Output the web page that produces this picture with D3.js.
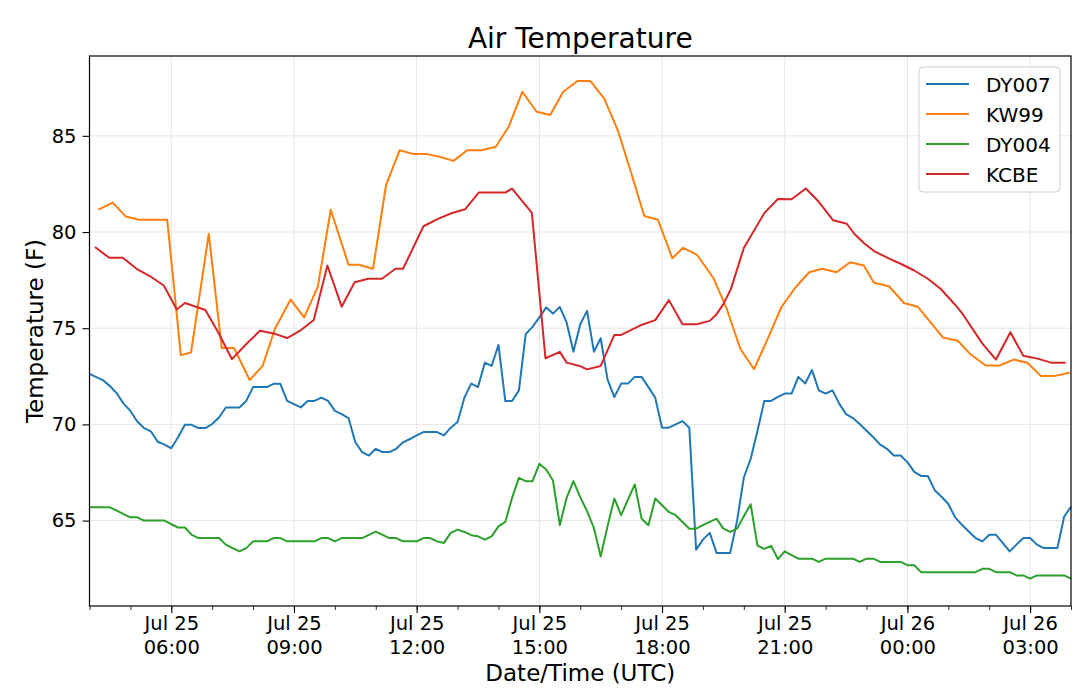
<!DOCTYPE html>
<html>
<head>
<meta charset="utf-8">
<script src="https://cdn.jsdelivr.net/npm/d3@7"></script>
<style>
  body { margin: 0; background: #fff; }
  text { font-family: "DejaVu Sans", sans-serif; fill: #000; }
</style>
</head>
<body>
<svg id="fig" width="1080" height="700"></svg>
<script>
// --- data ---
var seriesNames = ["DY007", "KW99", "DY004", "KCBE"];
var seriesColors = ["#1f77b4", "#ff7f0e", "#2ca02c", "#d62728"];

// DY007 and DY004 report every 10 minutes from Jul 25 04:00 UTC
var dyStart = "07-25 04:00";
var dyStepMinutes = 10;

var dy007 = [72.63, 72.46, 72.29, 71.99, 71.62, 71.08, 70.7, 70.15, 69.81, 69.64, 69.1, 68.95,
  68.76, 69.33, 69.98, 69.98, 69.81, 69.81, 70.02, 70.36, 70.88, 70.88, 70.88, 71.22,
  71.94, 71.94, 71.94, 72.11, 72.11, 71.22, 71.05, 70.88, 71.22, 71.22, 71.39, 71.22,
  70.7, 70.53, 70.33, 69.07, 68.56, 68.38, 68.73, 68.56, 68.56, 68.73, 69.07, 69.24,
  69.43, 69.6, 69.6, 69.6, 69.43, 69.83, 70.12, 71.39, 72.12, 71.94, 73.21, 73.04,
  74.13, 71.22, 71.22, 71.77, 74.69, 75.07, 75.56, 76.08, 75.76, 76.11, 75.3, 73.78,
  75.21, 75.9, 73.78, 74.48, 72.34, 71.42, 72.12, 72.12, 72.47, 72.47, 71.94, 71.39,
  69.83, 69.83, 70.0, 70.17, 69.83, 63.49, 64.01, 64.36, 63.32, 63.32, 63.32, 64.97,
  67.24, 68.2, 69.66, 71.22, 71.22, 71.43, 71.6, 71.6, 72.47, 72.13, 72.82, 71.77,
  71.6, 71.77, 71.08, 70.53, 70.33, 70.02, 69.67, 69.33, 68.95, 68.73, 68.38, 68.38,
  68.04, 67.53, 67.32, 67.32, 66.58, 66.24, 65.86, 65.17, 64.78, 64.43, 64.09, 63.92,
  64.26, 64.26, 63.83, 63.4, 63.75, 64.09, 64.09, 63.75, 63.57, 63.57, 63.57, 65.21,
  65.72];

var dy004 = [65.69, 65.69, 65.69, 65.69, 65.52, 65.34, 65.17, 65.17, 65.0, 65.0, 65.0, 65.0,
  64.81, 64.64, 64.64, 64.26, 64.09, 64.09, 64.09, 64.09, 63.75, 63.57, 63.4, 63.57,
  63.92, 63.92, 63.92, 64.09, 64.09, 63.92, 63.92, 63.92, 63.92, 63.92, 64.09, 64.09,
  63.92, 64.09, 64.09, 64.09, 64.09, 64.26, 64.43, 64.26, 64.09, 64.09, 63.92, 63.92,
  63.92, 64.09, 64.09, 63.92, 63.84, 64.36, 64.53, 64.41, 64.24, 64.18, 64.01, 64.18,
  64.7, 64.93, 66.18, 67.22, 67.05, 67.05, 67.95, 67.66, 67.08, 64.76, 66.18, 67.05,
  66.22, 65.49, 64.62, 63.13, 64.7, 66.15, 65.28, 66.09, 66.88, 65.1, 64.76, 66.15,
  65.8, 65.45, 65.28, 64.93, 64.58, 64.58, 64.76, 64.93, 65.1, 64.58, 64.41, 64.58,
  65.22, 65.85, 63.7, 63.53, 63.69, 63.0, 63.4, 63.2, 63.02, 63.02, 63.02, 62.85,
  63.02, 63.02, 63.02, 63.02, 63.02, 62.85, 63.02, 63.02, 62.85, 62.85, 62.85, 62.85,
  62.68, 62.68, 62.32, 62.32, 62.32, 62.32, 62.32, 62.32, 62.32, 62.32, 62.32, 62.49,
  62.49, 62.32, 62.32, 62.32, 62.15, 62.15, 61.98, 62.15, 62.15, 62.15, 62.15, 62.15,
  61.98];

var kw99Times = ["07-25 04:13", "07-25 04:34", "07-25 04:53", "07-25 05:13", "07-25 05:33", "07-25 05:54",
  "07-25 06:14", "07-25 06:29", "07-25 06:55", "07-25 07:14", "07-25 07:32", "07-25 07:55",
  "07-25 08:14", "07-25 08:32", "07-25 08:55", "07-25 09:15", "07-25 09:35", "07-25 09:54",
  "07-25 10:20", "07-25 10:35", "07-25 10:56", "07-25 11:15", "07-25 11:35", "07-25 11:56",
  "07-25 12:15", "07-25 12:35", "07-25 12:54", "07-25 13:14", "07-25 13:35", "07-25 13:56",
  "07-25 14:15", "07-25 14:35", "07-25 14:56", "07-25 15:16", "07-25 15:35", "07-25 15:56",
  "07-25 16:15", "07-25 16:35", "07-25 16:55", "07-25 17:15", "07-25 17:34", "07-25 17:54",
  "07-25 18:15", "07-25 18:31", "07-25 18:51", "07-25 19:16", "07-25 19:35", "07-25 19:55",
  "07-25 20:15", "07-25 20:35", "07-25 20:55", "07-25 21:16", "07-25 21:36", "07-25 21:55",
  "07-25 22:16", "07-25 22:36", "07-25 22:56", "07-25 23:11", "07-25 23:33", "07-25 23:55",
  "07-26 00:15", "07-26 00:34", "07-26 00:52", "07-26 01:14", "07-26 01:33", "07-26 01:55",
  "07-26 02:15", "07-26 02:36", "07-26 02:56", "07-26 03:16", "07-26 03:35", "07-26 03:58"];
var kw99 = [81.16, 81.53, 80.81, 80.64, 80.64, 80.64,
  73.6, 73.74, 79.91, 73.97, 73.97, 72.31,
  73.04, 74.96, 76.49, 75.56, 77.16, 81.16,
  78.3, 78.3, 78.09, 82.43, 84.25, 84.05,
  84.05, 83.9, 83.7, 84.25, 84.25, 84.43,
  85.47, 87.29, 86.25, 86.08, 87.29, 87.85,
  87.85, 86.95, 85.3, 83.04, 80.83, 80.64,
  78.64, 79.18, 78.83, 77.57, 76.0, 73.92,
  72.87, 74.45, 76.09, 77.13, 77.91, 78.09,
  77.91, 78.43, 78.26, 77.36, 77.18, 76.31,
  76.12, 75.3, 74.52, 74.35, 73.63, 73.06,
  73.06, 73.37, 73.2, 72.51, 72.51, 72.68];

var kcbeTimes = ["07-25 04:08", "07-25 04:29", "07-25 04:49", "07-25 05:09", "07-25 05:29", "07-25 05:49",
  "07-25 06:08", "07-25 06:20", "07-25 06:50", "07-25 07:09", "07-25 07:29", "07-25 07:49",
  "07-25 08:10", "07-25 08:30", "07-25 08:50", "07-25 09:09", "07-25 09:29", "07-25 09:49",
  "07-25 10:10", "07-25 10:29", "07-25 10:49", "07-25 11:09", "07-25 11:29", "07-25 11:40",
  "07-25 12:10", "07-25 12:32", "07-25 12:52", "07-25 13:11", "07-25 13:31", "07-25 13:51",
  "07-25 14:10", "07-25 14:20", "07-25 14:49", "07-25 15:09", "07-25 15:30", "07-25 15:40",
  "07-25 15:59", "07-25 16:10", "07-25 16:30", "07-25 16:50", "07-25 17:00", "07-25 17:30",
  "07-25 17:50", "07-25 18:10", "07-25 18:30", "07-25 18:51", "07-25 19:10", "07-25 19:20",
  "07-25 19:30", "07-25 19:41", "07-25 20:00", "07-25 20:30", "07-25 20:50", "07-25 21:10",
  "07-25 21:31", "07-25 21:50", "07-25 22:11", "07-25 22:31", "07-25 22:42", "07-25 22:56",
  "07-25 23:11", "07-25 23:31", "07-25 23:50", "07-26 00:10", "07-26 00:30", "07-26 00:49",
  "07-26 01:09", "07-26 01:21", "07-26 01:50", "07-26 02:10", "07-26 02:31", "07-26 02:50",
  "07-26 03:11", "07-26 03:32", "07-26 03:52"];
var kcbe = [79.22, 78.66, 78.66, 78.09, 77.7, 77.22,
  75.97, 76.31, 75.95, 74.78, 73.39, 74.14,
  74.87, 74.73, 74.49, 74.87, 75.43, 78.26,
  76.12, 77.39, 77.57, 77.57, 78.09, 78.09,
  80.3, 80.7, 80.99, 81.18, 82.05, 82.05,
  82.05, 82.26, 80.99, 73.44, 73.77, 73.21,
  73.04, 72.86, 73.04, 74.65, 74.65, 75.17,
  75.42, 76.46, 75.21, 75.21, 75.38, 75.73,
  76.25, 77.03, 79.17, 80.98, 81.72, 81.7,
  82.26, 81.57, 80.61, 80.43, 79.91, 79.43,
  79.01, 78.66, 78.35, 78.0, 77.57, 77.04,
  76.26, 75.74, 74.2, 73.37, 74.79, 73.57,
  73.42, 73.2, 73.2];

var xRange = ["07-25 04:00", "07-26 04:00"];
var yRange = [60.56, 89.15];
var yTicks = [65, 70, 75, 80, 85];

function makeSVG() {
    var width = 1080, height = 700;
    var margin = {left: 89.5, right: 9, top: 56, bottom: 94};
    var parse = d3.utcParse("%m-%d %H:%M");

    var t0 = parse(dyStart);
    var regular = function(vals) {
        return vals.map((v, i) => [d3.utcMinute.offset(t0, i * dyStepMinutes), v]);
    };
    var paired = function(times, vals) {
        return times.map((t, i) => [parse(t), vals[i]]);
    };
    var series = [regular(dy007), paired(kw99Times, kw99), regular(dy004), paired(kcbeTimes, kcbe)];

    var sx = d3.scaleUtc().domain(xRange.map(parse))
                          .range([margin.left, width - margin.right]);
    var sy = d3.scaleLinear().domain(yRange)
                             .range([height - margin.bottom, margin.top]);

    var svg = d3.select("#fig");

    // grid
    var grid = svg.append("g").attr("stroke", "#e6e6e6").attr("stroke-width", 1);
    grid.selectAll("line.gx").data(sx.ticks(d3.utcHour.every(3)))
        .enter().append("line")
        .attr("x1", d => sx(d)).attr("x2", d => sx(d))
        .attr("y1", margin.top).attr("y2", height - margin.bottom);
    grid.selectAll("line.gy").data(yTicks)
        .enter().append("line")
        .attr("x1", margin.left).attr("x2", width - margin.right)
        .attr("y1", d => sy(d)).attr("y2", d => sy(d));

    // lines
    var line = d3.line().x(d => sx(d[0])).y(d => sy(d[1]));
    svg.append("g").selectAll("path").data(series)
       .enter().append("path")
       .attr("d", line)
       .attr("fill", "none")
       .attr("stroke", (d, i) => seriesColors[i])
       .attr("stroke-width", 2)
       .attr("stroke-linejoin", "round");

    // frame
    svg.append("rect")
       .attr("x", margin.left).attr("y", margin.top)
       .attr("width", width - margin.left - margin.right)
       .attr("height", height - margin.top - margin.bottom)
       .attr("fill", "none").attr("stroke", "#000").attr("stroke-width", 1.2);

    // x axis
    var fmtDay = d3.utcFormat("%b %d");
    var fmtHour = d3.utcFormat("%H:%M");
    var xAxis = svg.append("g")
        .attr("transform", "translate(0," + (height - margin.bottom) + ")")
        .call(d3.axisBottom(sx).ticks(d3.utcHour.every(3)).tickSize(7).tickFormat(""));
    xAxis.select(".domain").remove();
    xAxis.selectAll(".tick line").attr("stroke", "#000").attr("stroke-width", 1.1);
    xAxis.selectAll(".tick text").remove();
    xAxis.selectAll(".tick").append("text")
        .attr("text-anchor", "middle")
        .attr("font-size", 19.5)
        .each(function(d) {
            var t = d3.select(this);
            t.append("tspan").attr("x", 0).attr("y", 23.5).text(fmtDay(d));
            t.append("tspan").attr("x", 0).attr("y", 47.5).text(fmtHour(d));
        });

    var xMinor = svg.append("g")
        .attr("transform", "translate(0," + (height - margin.bottom) + ")")
        .call(d3.axisBottom(sx).ticks(d3.utcHour.every(1)).tickSize(4).tickFormat(""));
    xMinor.select(".domain").remove();
    xMinor.selectAll(".tick line").attr("stroke", "#000").attr("stroke-width", 0.8);

    // y axis
    var yAxis = svg.append("g")
        .attr("transform", "translate(" + margin.left + ",0)")
        .call(d3.axisLeft(sy).tickValues(yTicks).tickSize(7).tickPadding(6));
    yAxis.select(".domain").remove();
    yAxis.selectAll(".tick line").attr("stroke", "#000").attr("stroke-width", 1.1);
    yAxis.selectAll(".tick text").attr("font-size", 19.5).attr("font-family", "DejaVu Sans").attr("fill", "#000");

    // titles
    svg.append("text")
       .attr("x", (margin.left + width - margin.right) / 2).attr("y", 48)
       .attr("text-anchor", "middle").attr("font-size", 28)
       .text("Air Temperature");
    svg.append("text")
       .attr("x", (margin.left + width - margin.right) / 2).attr("y", 681)
       .attr("text-anchor", "middle").attr("font-size", 23)
       .text("Date/Time (UTC)");
    svg.append("text")
       .attr("transform", "translate(43," + ((margin.top + height - margin.bottom) / 2) + ") rotate(-90)")
       .attr("text-anchor", "middle").attr("font-size", 23)
       .text("Temperature (F)");

    // legend
    var lg = svg.append("g").attr("transform", "translate(919,67)");
    lg.append("rect")
      .attr("width", 141).attr("height", 125).attr("rx", 4)
      .attr("fill", "#fff").attr("fill-opacity", 0.8)
      .attr("stroke", "#d0d0d0").attr("stroke-width", 1);
    var items = lg.selectAll("g.item").data(seriesNames)
      .enter().append("g")
      .attr("transform", (d, i) => "translate(0," + (17 + i * 30) + ")");
    items.append("line")
      .attr("x1", 7).attr("x2", 50)
      .attr("stroke", (d, i) => seriesColors[i]).attr("stroke-width", 2);
    items.append("text")
      .attr("x", 67).attr("y", 7.5)
      .attr("font-size", 20)
      .text(d => d);
}
makeSVG();
</script>
</body>
</html>
